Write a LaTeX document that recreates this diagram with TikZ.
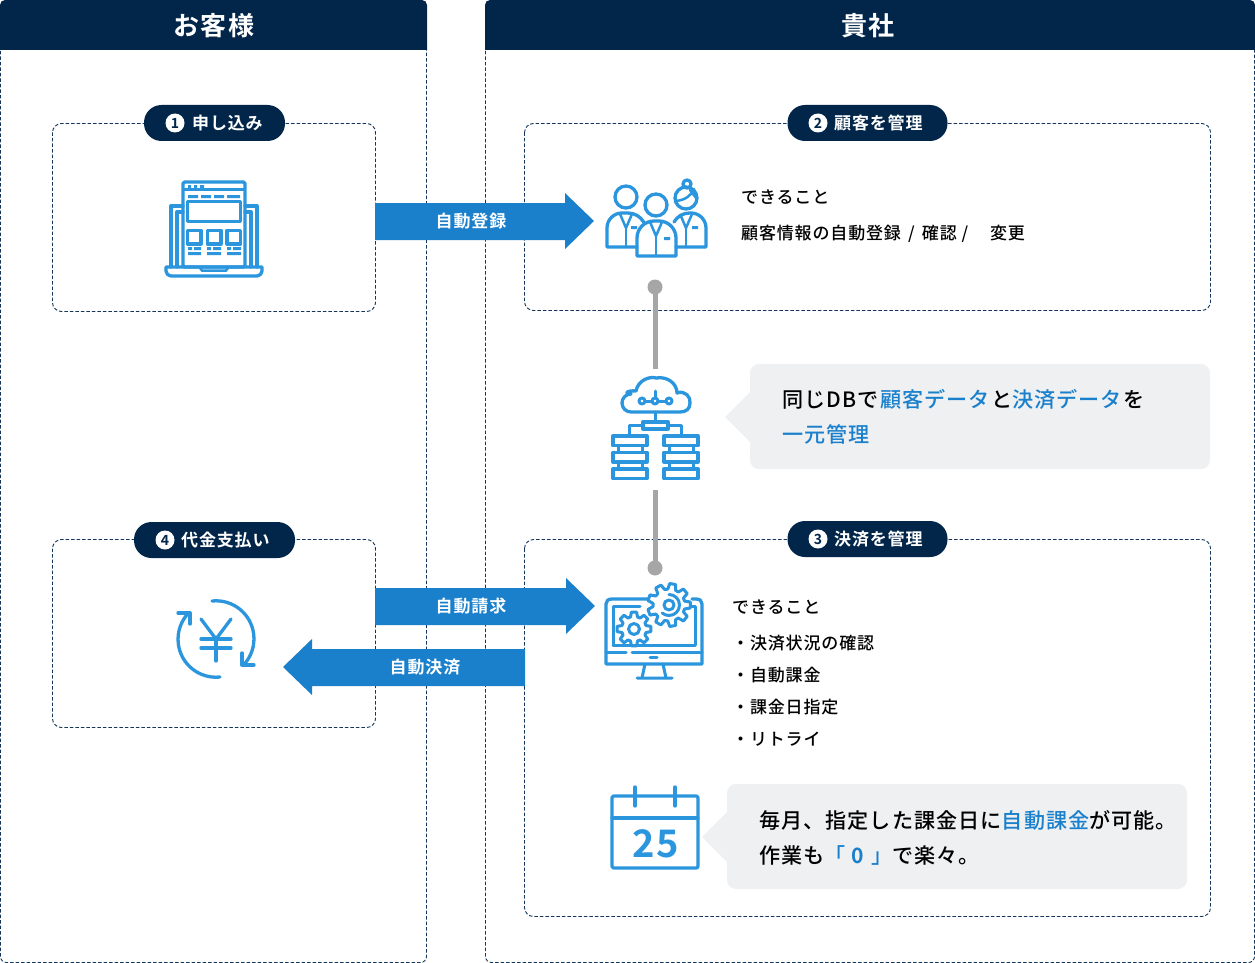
\documentclass[tikz,border=0pt]{standalone}
\usepackage{fontspec}
\setmainfont{Noto Sans CJK JP Medium}[LetterSpace=5]
\newfontfamily\bfj{Noto Sans CJK JP Bold}[LetterSpace=5]
\usetikzlibrary{calc}
\definecolor{navy}{HTML}{02264A}
\definecolor{blu}{HTML}{1A80CC}
\definecolor{ico}{HTML}{2B96DE}
\definecolor{gbox}{HTML}{EEF0F2}
\definecolor{gline}{HTML}{A6A6A6}
\definecolor{dashc}{HTML}{15345A}
\tikzset{
 x=1pt,y=-1pt,
 panel/.style={draw=dashc,line width=.9pt,dash pattern=on 3.5pt off 2pt},
 head/.style={fill=navy},
 headtxt/.style={text=white,font=\bfj\fontsize{26}{26}\selectfont,text height=23pt,text depth=3pt,inner sep=0pt},
 pill/.style={fill=navy,rounded corners=17.5pt,minimum height=36pt,inner sep=0pt},
 pilltxt/.style={text=white,anchor=west,inner sep=0pt,font=\bfj\fontsize{17}{17}\selectfont,text height=15pt,text depth=2pt},
 arrowtxt/.style={text=white,inner sep=0pt,font=\bfj\fontsize{17}{17}\selectfont,text height=15pt,text depth=2pt},
 body/.style={text=black,anchor=west,inner sep=0pt,font=\fontsize{17}{17}\selectfont,text height=15pt,text depth=2pt},
 big/.style={text=black,anchor=west,inner sep=0pt,font=\fontsize{21.1}{21.1}\selectfont,text height=18.5pt,text depth=2.5pt},
 icn/.style={draw=ico,line width=3.3pt,line join=round,line cap=round},
 icnt/.style={draw=ico,line width=3pt,line join=round,line cap=round},
 num/.style={circle,fill=white,minimum size=19pt,inner sep=0pt,text=navy,font=\bfj\fontsize{14}{14}\selectfont,text height=10.5pt,text depth=0pt},
}
\newcommand{\hl}[1]{\textcolor{blu}{#1}}
\newcommand{\gearshape}[5]{% cx cy ro ri teeth
 \fill[white] (#1,#2) circle (#4pt);
 \foreach \k in {1,...,#5}{
  \pgfmathsetmacro{\st}{360/#5}
  \pgfmathsetmacro{\a}{\k*\st}
  \draw[icnt] ($(#1,#2)+({\a-\st*.36}:#4)$) -- ($(#1,#2)+({\a-\st*.2}:#3)$) -- ($(#1,#2)+({\a+\st*.2}:#3)$) -- ($(#1,#2)+({\a+\st*.36}:#4)$) -- ($(#1,#2)+({\a+\st*.64}:#4)$);
 }}
\begin{document}
\begin{tikzpicture}
\useasboundingbox (0,0) rectangle (1255,963);
\fill[white] (0,0) rectangle (1255,963);
% panels
\draw[panel,rounded corners=6pt] (0.5,40) -- (0.5,962.5) -- (426.5,962.5) -- (426.5,40);
\draw[panel,rounded corners=6pt] (485.5,40) -- (485.5,962.5) -- (1254.5,962.5) -- (1254.5,40);
\fill[head] (0,50) -- (0,5) arc[start angle=180,end angle=90,radius=5pt] -- (422,0) arc[start angle=90,end angle=0,radius=5pt] -- (427,50) -- cycle;
\fill[head] (485,50) -- (485,5) arc[start angle=180,end angle=90,radius=5pt] -- (1250,0) arc[start angle=90,end angle=0,radius=5pt] -- (1255,50) -- cycle;
\node[headtxt] (h1) at (214,26) {お客様};
\node[headtxt] (h2) at (868,26) {貴社};
% dashed boxes
\draw[panel,rounded corners=9pt] (52.5,123.5) rectangle (375.5,311.5);
\draw[panel,rounded corners=9pt] (524.5,123.5) rectangle (1210.5,310.5);
\draw[panel,rounded corners=9pt] (52.5,539.5) rectangle (375.5,727.5);
\draw[panel,rounded corners=9pt] (524.5,539.5) rectangle (1210.5,916.5);
% pills
\node[pill,minimum width=141pt] (p1) at (214.5,123) {};
\node[num] (n1) at (175,123) {1};
\node[pilltxt] (t1) at (192,123) {申し込み};
\node[pill,minimum width=160pt] (p2) at (867.5,123) {};
\node[num] (n2) at (818,123) {2};
\node[pilltxt] (t2) at (834,123) {顧客を管理};
\node[pill,minimum width=161pt] (p4) at (214.5,540) {};
\node[num] (n4) at (165,540) {4};
\node[pilltxt] (t4) at (181,540) {代金支払い};
\node[pill,minimum width=160pt] (p3) at (867.5,539) {};
\node[num] (n3) at (818,539) {3};
\node[pilltxt] (t3) at (834,539) {決済を管理};
% arrows
\fill[blu] (375,203) -- (565,203) -- (565,193) -- (594,221) -- (565,249) -- (565,240) -- (375,240) -- cycle;
\node[arrowtxt] (a1) at (471,221) {自動登録};
\fill[blu] (375,588) -- (566,588) -- (566,578) -- (595,606) -- (566,634) -- (566,625) -- (375,625) -- cycle;
\node[arrowtxt] (a2) at (471,606) {自動請求};
\fill[blu] (525,649) -- (312,649) -- (312,639) -- (283,667) -- (312,695) -- (312,686) -- (525,686) -- cycle;
\node[arrowtxt] (a3) at (425,667) {自動決済};
% connector
\coordinate (c1) at (655,287); \coordinate (c2) at (655,369);
\coordinate (c3) at (655,490); \coordinate (c4) at (655,568);
\draw[gline,line width=5pt] (c1) -- (c2);
\draw[gline,line width=5pt] (c3) -- (c4);
\fill[gline] (c1) circle (7.5pt);
\fill[gline] (c4) circle (7.5pt);
% texts top
\node[body] (x1) at (741,197) {できること};
\node[body] (x2) at (741,233) {顧客情報の自動登録\hspace{2.5pt} / \hspace{2.5pt}確認 /\hspace{22pt}変更};
\node[body] (y1) at (732,607) {できること};
\node[body] (y2) at (732,643) {・決済状況の確認};
\node[body] (y3) at (732,675) {・自動課金};
\node[body] (y4) at (732,707) {・課金日指定};
\node[body] (y5) at (732,739) {・リトライ};
% callouts
\fill[gbox,rounded corners=9pt] (750,364) rectangle (1210,469);
\fill[gbox] (751,391) -- (725,417) -- (751,443) -- cycle;
\node[big] (z1) at (782,399) {同じDBで\hspace{1.5pt}\hl{顧客データ}\hspace{1.5pt}と\hl{決済データ}\hspace{1pt}を};
\node[big] (z2) at (782,434) {\hl{一元管理}};
\fill[gbox,rounded corners=9pt] (727,784) rectangle (1187,889);
\fill[gbox] (728,811) -- (702,837) -- (728,863) -- cycle;
\node[big] (w1) at (759,820) {毎月、指定した課金日に\hl{自動課金}が可能。};
\node[big] (w2) at (759,855) {作業も\hl{「\hspace{6pt}{\bfj 0}\hspace{7pt}」}で楽々。};
% --- laptop icon
\begin{scope}
\draw[icn] (183,206) -- (171,206) -- (171,267) ;
\draw[icn] (245,206) -- (257,206) -- (257,267);
\draw[icn] (183,212) -- (177,212) -- (177,267);
\draw[icn] (245,212) -- (251,212) -- (251,267);
\draw[icn,rounded corners=1.5pt] (183,267) -- (183,182) -- (245,182) -- (245,267) -- cycle;
\draw[ico,line width=2.5pt] (183,189.5) -- (245,189.5);
\draw[icn] (166,267) -- (262,267) -- (262,271) arc[start angle=0,end angle=-90,radius=5pt] -- (171,276) arc[start angle=-90,end angle=-180,radius=5pt] -- cycle;
\draw[ico,line width=2.5pt,line cap=round] (200,268) -- (202,270.5) -- (226,270.5) -- (228,268);
\fill[ico] (188,185) rectangle (191,188) (194,185) rectangle (197,188) (200,185) rectangle (204,188);
\fill[ico] (188,195) rectangle (198,198) (201,195) rectangle (211,198) (214,195) rectangle (224,198) (227,195) rectangle (240,198);
\draw[icn] (187.5,201.5) rectangle (240.5,221.5);
\draw[icn] (187.5,230.5) rectangle (201,244);
\draw[icn] (207.5,230.5) rectangle (221,244);
\draw[icn] (227,230.5) rectangle (240.5,244);
\fill[ico] (188,247) rectangle (192,250) (194,247) rectangle (201,250) (188,252) rectangle (201,255);
\fill[ico] (207,247) rectangle (211,250) (213,247) rectangle (221,250) (207,252) rectangle (221,255);
\fill[ico] (227,247) rectangle (231,250) (233,247) rectangle (241,250) (227,252) rectangle (241,255);
\end{scope}
% --- people icon
\begin{scope}
\draw[icn] (626,197) circle (11pt);
\draw[icn] (656,205) circle (11pt);
\draw[icn] (686,198) circle (11pt);
\draw[icn] (687,184) circle (4pt);
\draw[ico,line width=2.5pt,line cap=round] (676,201) .. controls (685,200) and (691,196) .. (694,189);
\draw[ico,line width=2.5pt,line cap=round] (690,190) -- (696,198);
\draw[icn] (637,247) -- (607,247) -- (607,228) arc[start angle=180,end angle=90,radius=15pt] -- (628,213) arc[start angle=90,end angle=30,radius=18pt];
\draw[icn] (674,222) arc[start angle=150,end angle=90,radius=18pt] -- (691,213) arc[start angle=90,end angle=0,radius=15pt] -- (706,247) -- (676,247);
\draw[icn] (637,256) -- (637,238) arc[start angle=180,end angle=90,radius=17pt] -- (659,221) arc[start angle=90,end angle=0,radius=17pt] -- (676,256) -- cycle;
\draw[ico,line width=2.5pt,line join=round] (620,214) -- (626,228) -- (632,214);
\draw[ico,line width=2.5pt] (626,228) -- (626,247);
\draw[ico,line width=2.5pt,line join=round] (650,222) -- (656,236) -- (662,222);
\draw[ico,line width=2.5pt] (656,236) -- (656,256);
\draw[ico,line width=2.5pt,line join=round] (680,214) -- (686,228) -- (692,214);
\draw[ico,line width=2.5pt] (686,228) -- (686,247);
\fill[ico] (631,226) rectangle (637,229) (664,237) rectangle (670,240) (692,226) rectangle (698,229);
\end{scope}
% --- cloud / db icon
\begin{scope}
\draw[icn] (638,412) -- (631,412) arc[start angle=270,end angle=90,radius=9pt] .. controls (622,394) and (628,390) .. (636,391) .. controls (638,380) and (650,376) .. (656,378) .. controls (668,376) and (677,384) .. (677,393) .. controls (685,390) and (691,397) .. (690,403) .. controls (690,409) and (686,412) .. (680,412) -- cycle;
\draw[icnt] (642,401) circle (3pt) (655,401) circle (3pt) (669,401) circle (3pt);
\draw[icnt] (645,401) -- (652,401) (658,401) -- (666,401) (655,398) -- (655,391);
\draw[icnt] (655,412) -- (655,422);
\draw[icn] (643,422) rectangle (668,429);
\draw[icnt] (643,425) -- (629,425) -- (629,435);
\draw[icnt] (668,425) -- (681,425) -- (681,435);
\foreach \xx in {613,664}{
 \draw[icn] (\xx,436) rectangle ++(34,9.5);
 \draw[icn] (\xx,452.5) rectangle ++(34,9.5);
 \draw[icn] (\xx,469) rectangle ++(34,9.5);
 \draw[icnt] (\xx+5,446) -- (\xx+5,452) (\xx+29,446) -- (\xx+29,452) (\xx+5,462) -- (\xx+5,469) (\xx+29,462) -- (\xx+29,469);
}
\end{scope}
% --- monitor icon
\begin{scope}
\draw[icn] (648,599) -- (612,599) .. controls (608,599) and (606,601) .. (606,604) -- (606,664) -- (702,664) -- (702,604) .. controls (702,601) and (700,599) .. (696,599) -- (692,599);
\draw[icnt] (606,652) -- (626,652) (632,652) -- (702,652);
\draw[icnt] (613,645) -- (613,606) -- (640,606) (692,606) -- (695,606) -- (695,645);
\draw[icnt] (613,645) -- (695,645);
\draw[icnt] (650,657.5) -- (657,657.5);
\draw[icnt] (645,664) -- (642,678) (663,664) -- (666,678) (637,678) -- (672,678);
\gearshape{634}{629}{17}{12.5}{8}
\draw[icnt] (634,629) circle (5.5pt);
\gearshape{669}{605}{21.5}{16}{9}
\draw[icnt] (669,605) circle (5pt);
\draw[icnt] (669,594.5) arc[start angle=90,end angle=-130,radius=10.5pt];
\end{scope}
% --- yen icon
\begin{scope}
\draw[icn] (212,601) arc[start angle=96,end angle=-42,radius=38pt];
\draw[icn] (220,677) arc[start angle=-84,end angle=-225,radius=38pt];
\draw[icn] (254,665) -- (242,665) -- (242,653);
\draw[icn] (178,613) -- (190,613) -- (190,624);
\draw[icn] (201,619) -- (216,639) -- (231,619);
\draw[icn] (216,639) -- (216,661);
\draw[icn] (201,639) -- (231,639) (201,648) -- (231,648);
\end{scope}
% --- calendar icon
\begin{scope}
\draw[icn,rounded corners=2pt] (612,796) rectangle (698,868);
\draw[icn] (612,818) -- (698,818);
\draw[icn] (635,787) -- (635,806) (675,787) -- (675,806);
\node[text=ico,font=\bfj\fontsize{38}{38}\selectfont,inner sep=0pt,text height=29pt,text depth=0pt] (cal) at (655.5,843) {25};
\end{scope}
\end{tikzpicture}
\end{document}
